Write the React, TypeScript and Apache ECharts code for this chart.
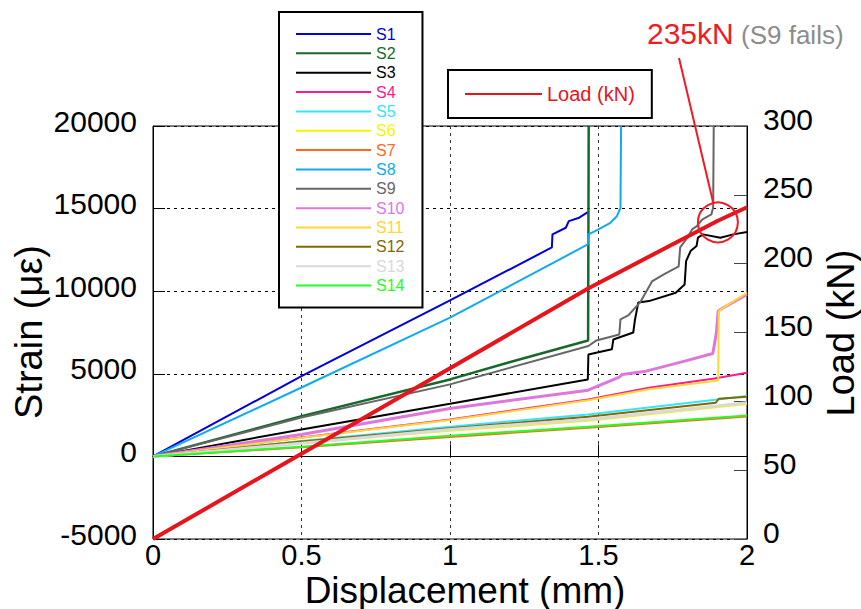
import React, { useEffect, useRef } from "react";
import * as echarts from "echarts";

type Pt = [number, number];

const xTicks = [0, 0.5, 1, 1.5, 2];
const strainTicks = [-5000, 0, 5000, 10000, 15000, 20000];
const loadTicks = [0, 50, 100, 150, 200, 250, 300];

const seriesNames = ["S1", "S2", "S3", "S4", "S5", "S6", "S7", "S8", "S9", "S10", "S11", "S12", "S13", "S14"];
const seriesColors = ["#0000DD", "#16692A", "#000000", "#FF1A8C", "#33E6FF", "#F5F500", "#FF6A1A", "#11AAEE", "#666666", "#DD77DD", "#FFD633", "#806A00", "#D9D9D9", "#22FF22"];
const seriesWidths = [2, 2.5, 2, 2, 2, 1.5, 2, 2, 2, 3, 2, 2, 3, 2];

const s1: Pt[] = [[0, 0], [0.5, 4860], [1, 9440], [1.343, 12650], [1.345, 13440], [1.39, 13840], [1.4, 14240], [1.435, 14450], [1.464, 14790]];
const s2: Pt[] = [[0, 0], [0.5, 2440], [1, 4660], [1.2, 5700], [1.465, 7020], [1.467, 20000]];
const s3: Pt[] = [[0, 0], [0.5, 1630], [1, 3190], [1.464, 4660], [1.466, 6170], [1.545, 6480], [1.55, 7080], [1.617, 7500], [1.623, 8290], [1.634, 9320], [1.67, 9400], [1.76, 9910], [1.79, 10410], [1.795, 11820], [1.81, 12430], [1.83, 12730], [1.835, 13240], [1.852, 13440], [1.91, 13240], [1.954, 13440], [2, 13580]];
const s4: Pt[] = [[0, 0], [0.5, 1150], [1, 2230], [1.465, 3450], [1.67, 4150], [1.89, 4720], [2, 5070]];
const s5: Pt[] = [[0, 0], [0.5, 930], [1, 1800], [1.465, 2540], [1.9, 3450], [2, 3650]];
const s6: Pt[] = [[0, 0], [0.5, 800], [1, 1530], [1.465, 2140], [2, 3150]];
const s7: Pt[] = [[0, 0], [0.5, 550], [1, 1180], [1.465, 1730], [2, 2420]];
const s8: Pt[] = [[0, 0], [0.5, 4170], [1, 8400], [1.464, 12830], [1.466, 13440], [1.5, 13740], [1.54, 14140], [1.562, 14540], [1.574, 15050], [1.576, 20000]];
const s9: Pt[] = [[0, 0], [0.5, 2350], [1, 4360], [1.466, 6680], [1.493, 7020], [1.57, 7380], [1.574, 8290], [1.6, 8530], [1.64, 9320], [1.68, 10590], [1.72, 11020], [1.77, 11500], [1.775, 12650], [1.8, 13260], [1.815, 13740], [1.83, 13920], [1.85, 14350], [1.88, 14650], [1.886, 15070], [1.888, 20000]];
const s10: Pt[] = [[0, 0], [0.5, 1330], [1, 2900], [1.465, 4010], [1.57, 4800], [1.58, 4960], [1.66, 5160], [1.79, 5770], [1.885, 6230], [1.893, 7080], [1.897, 7500], [1.903, 8800], [1.92, 9000], [2, 9800]];
const s11: Pt[] = [[0, 0], [0.5, 1130], [1, 2200], [1.465, 3400], [1.67, 4060], [1.89, 4560], [1.903, 4600], [1.905, 8800], [1.92, 9000], [2, 9900]];
const s12: Pt[] = [[0, 0], [0.5, 900], [1, 1700], [1.465, 2400], [1.895, 3250], [1.905, 3490], [2, 3610]];
const s13: Pt[] = [[0, 0], [0.5, 790], [1, 1630], [1.465, 2240], [2, 3250]];
const s14: Pt[] = [[0, 0], [0.5, 590], [1, 1250], [1.465, 1800], [2, 2480]];
const loadData: Pt[] = [[0, 0], [0.5, 62], [1, 124], [1.465, 182], [1.9, 231], [2, 241]];

const strainData = [s1, s2, s3, s4, s5, s6, s7, s8, s9, s10, s11, s12, s13, s14];

const loadName = "Load (kN)";
const loadColor = "#E8141B";
const failPoint: Pt = [1.902, 230];
const annotationMain = "235kN";
const annotationNote = "(S9 fails)";

const FONT = "'Liberation Sans', Arial, sans-serif";

export default function App() {
  const ref = useRef<HTMLDivElement>(null);
  useEffect(() => {
    document.body.style.margin = "0";
    if (!ref.current) return;
    const chart = echarts.init(ref.current, null, { renderer: "svg" });
    const series: any[] = strainData.map((d, i) => ({
      name: seriesNames[i],
      type: "line",
      data: d,
      symbol: "none",
      yAxisIndex: 0,
      lineStyle: { color: seriesColors[i], width: seriesWidths[i] },
      itemStyle: { color: seriesColors[i] },
      z: 2,
    }));
    series.push({
      name: loadName,
      type: "line",
      data: loadData,
      symbol: "none",
      yAxisIndex: 1,
      lineStyle: { color: loadColor, width: 4 },
      itemStyle: { color: loadColor },
      z: 3,
    });
    const option: any = {
      animation: false,
      backgroundColor: "#fff",
      textStyle: { fontFamily: FONT },
      grid: { left: 153, top: 126, width: 594, height: 413, show: true, borderColor: "#000", borderWidth: 1, containLabel: false, outerBoundsMode: "none" },
      xAxis: {
        type: "value",
        min: xTicks[0],
        max: xTicks[xTicks.length - 1],
        interval: 0.5,
        axisLine: { lineStyle: { color: "#000", width: 1 } },
        axisTick: { inside: true, length: 12, lineStyle: { color: "#000" } },
        axisLabel: { fontSize: 29, color: "#000", fontFamily: FONT, margin: 5, lineHeight: 22, formatter: (v: number) => String(v) },
        splitLine: { show: true, lineStyle: { color: "#333", type: [3, 4], width: 1 } },
      },
      yAxis: [
        {
          type: "value",
          position: "left",
          min: strainTicks[0],
          max: strainTicks[strainTicks.length - 1],
          interval: 5000,
          axisLine: { show: true, lineStyle: { color: "#000", width: 1 } },
          axisTick: { inside: true, length: 12, lineStyle: { color: "#000" } },
          axisLabel: { fontSize: 30, color: "#000", fontFamily: FONT, margin: 16, verticalAlign: "bottom", lineHeight: 10, formatter: (v: number) => String(v) },
          splitLine: { show: true, lineStyle: { color: "#000", type: [3, 4], width: 1 } },
        },
        {
          type: "value",
          position: "right",
          min: loadTicks[0],
          max: loadTicks[loadTicks.length - 1],
          interval: 50,
          axisLine: { show: true, lineStyle: { color: "#000", width: 1 } },
          axisTick: { inside: true, length: 13, lineStyle: { color: "#444" } },
          axisLabel: { fontSize: 30, color: "#000", fontFamily: FONT, margin: 16, verticalAlign: "bottom", lineHeight: 14, formatter: (v: number) => String(v) },
          splitLine: { show: false },
        },
      ],
      legend: [
        {
          left: 279,
          top: 12,
          orient: "vertical",
          padding: [14, 18, 14, 16],
          itemWidth: 75,
          itemHeight: 16,
          itemGap: 3.35,
          backgroundColor: "#fff",
          borderColor: "#000",
          borderWidth: 2,
          borderRadius: 0,
          itemStyle: { opacity: 0 },
          data: seriesNames.map((n, i) => ({ name: n, textStyle: { color: seriesColors[i] } })),
          textStyle: { fontSize: 16, fontFamily: FONT, lineHeight: 16 },
        },
        {
          left: 448,
          top: 70,
          orient: "horizontal",
          padding: [14, 17, 14, 16],
          itemWidth: 77,
          itemHeight: 20,
          backgroundColor: "#fff",
          borderColor: "#000",
          borderWidth: 2,
          borderRadius: 0,
          itemStyle: { opacity: 0 },
          data: [{ name: loadName, textStyle: { color: loadColor } }],
          textStyle: { fontSize: 20, fontFamily: FONT, lineHeight: 20 },
        },
      ],
      series,
    };
    chart.setOption(option);

    const c = chart.convertToPixel({ xAxisIndex: 0, yAxisIndex: 1 } as any, failPoint) as number[];
    const r = 20;
    const tx = 679, ty = 58;
    const dx = tx - c[0], dy = ty - c[1];
    const len = Math.sqrt(dx * dx + dy * dy);
    const ex = c[0] + (dx / len) * r, ey = c[1] + (dy / len) * r;

    chart.setOption({
      graphic: [
        { type: "text", x: 29, y: 332, rotation: Math.PI / 2, style: { text: "Strain (με)", fontSize: 38, fontFamily: FONT, fill: "#000", textAlign: "center", textVerticalAlign: "middle" } },
        { type: "text", x: 841, y: 333, rotation: Math.PI / 2, style: { text: "Load (kN)", fontSize: 38, fontFamily: FONT, fill: "#000", textAlign: "center", textVerticalAlign: "middle" } },
        { type: "text", x: 465, y: 590, style: { text: "Displacement (mm)", fontSize: 37, lineHeight: 34, fontFamily: FONT, fill: "#000", textAlign: "center", textVerticalAlign: "middle" } },
        { type: "text", x: 647, y: 33, style: { text: annotationMain, fontSize: 30, fontFamily: FONT, fill: "#EE1C25", textAlign: "left", textVerticalAlign: "middle" } },
        { type: "text", x: 741, y: 35, style: { text: annotationNote, fontSize: 26, fontFamily: FONT, fill: "#8C8C8C", textAlign: "left", textVerticalAlign: "middle" } },
        { type: "line", shape: { x1: tx, y1: ty, x2: ex, y2: ey }, style: { stroke: "#EE1C25", lineWidth: 2 }, z: 10 },
        { type: "circle", shape: { cx: c[0], cy: c[1], r }, style: { fill: "none", stroke: "#EE1C25", lineWidth: 2 }, z: 10 },
      ],
    });
    return () => chart.dispose();
  }, []);
  return <div ref={ref} style={{ width: 861, height: 609 }} />;
}
